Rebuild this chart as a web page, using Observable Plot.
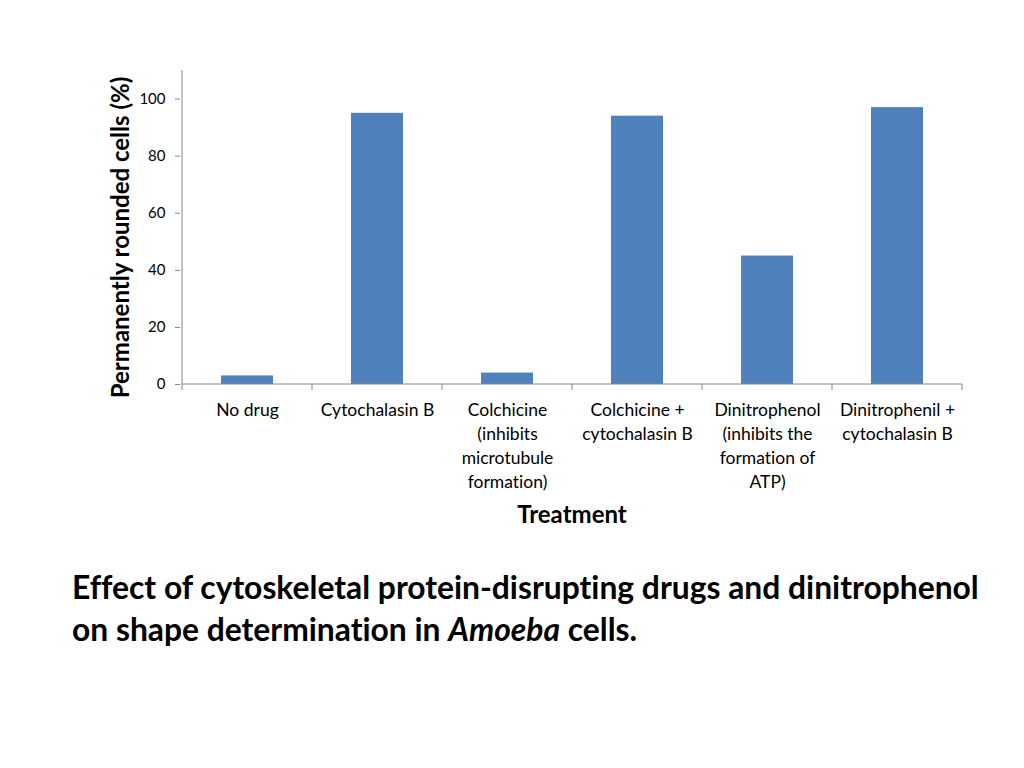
<!DOCTYPE html>
<html>
<head>
<meta charset="utf-8">
<script src="https://cdn.jsdelivr.net/npm/d3@7"></script>
<script src="https://cdn.jsdelivr.net/npm/@observablehq/plot@0.6"></script>
<style>
  html, body { margin: 0; padding: 0; background: #fff; }
  body { width: 1024px; height: 768px; overflow: hidden; font-family: Lato, "Open Sans", sans-serif; font-variant-ligatures: none; }
  #chart { position: absolute; left: 0; top: 0; }
  #chart svg text { font-variant-ligatures: none; }
  #title { position: absolute; left: 72px; top: 566px; font-size: 31.8px; font-weight: bold; line-height: 42px; color: #000; white-space: nowrap; }
</style>
</head>
<body>
<div id="chart"></div>
<div id="title">Effect of cytoskeletal protein-disrupting drugs and dinitrophenol<br>on shape determination in <i>Amoeba</i> cells.</div>
<script>
const treatments = [
  "No drug",
  "Cytochalasin B",
  "Colchicine\n(inhibits\nmicrotubule\nformation)",
  "Colchicine +\ncytochalasin B",
  "Dinitrophenol\n(inhibits the\nformation of\nATP)",
  "Dinitrophenil +\ncytochalasin B"
];
const rounded = [3, 95, 4, 94, 45, 97];
const yTicks = [0, 20, 40, 60, 80, 100];
const yLabel = "Permanently rounded cells (%)";
const xLabel = "Treatment";

const data = treatments.map((t, i) => ({treatment: t, value: rounded[i]}));

const axisColor = "#868686";
const chart = Plot.plot({
  width: 1024,
  height: 545,
  marginLeft: 180,
  marginRight: 61,
  marginTop: 70,
  marginBottom: 161,
  style: {fontFamily: "Lato, 'Open Sans', sans-serif", background: "#fff"},
  x: {domain: treatments, paddingInner: 0.6, paddingOuter: 0.3},
  y: {domain: [0, 110]},
  marks: [
    Plot.barY(data, {x: "treatment", y: "value", fill: "#4F81BD"}),
    Plot.axisY({ticks: yTicks, tickSize: 5, stroke: axisColor, fill: "#000", fontSize: 15, tickPadding: 10, label: null}),
    Plot.axisX({tickSize: 0, fontSize: 17.5, fill: "#000", tickPadding: 14, lineHeight: 1.38, label: null}),
    Plot.text([yLabel], {frameAnchor: "left", textAnchor: "middle", rotate: -90, dx: -59, dy: 10, fontSize: 24, fontWeight: "bold", fill: "#000"}),
    Plot.text([xLabel], {frameAnchor: "bottom", dy: 138, fontSize: 24, fontWeight: "bold", fill: "#000"})
  ]
});

// axis lines and band-boundary ticks, positioned from the chart's own scales
const svg = d3.select(chart);
const xs = chart.scale("x");
const ys = chart.scale("y");
const y0 = ys.apply(0);
const yTop = ys.apply(ys.domain[1]);
const step = xs.step;
const firstStart = xs.apply(treatments[0]) + xs.bandwidth / 2 - step / 2;
const bounds = d3.range(treatments.length + 1).map(i => firstStart + i * step);
const g = svg.append("g").attr("stroke", axisColor).attr("stroke-width", 1);
g.append("line").attr("x1", bounds[0]).attr("x2", bounds[0]).attr("y1", yTop).attr("y2", y0);
g.append("line").attr("x1", bounds[0]).attr("x2", bounds[bounds.length - 1]).attr("y1", y0).attr("y2", y0);
bounds.forEach(b => g.append("line").attr("x1", b).attr("x2", b).attr("y1", y0).attr("y2", y0 + 6));
document.getElementById("chart").appendChild(chart);
</script>
</body>
</html>
